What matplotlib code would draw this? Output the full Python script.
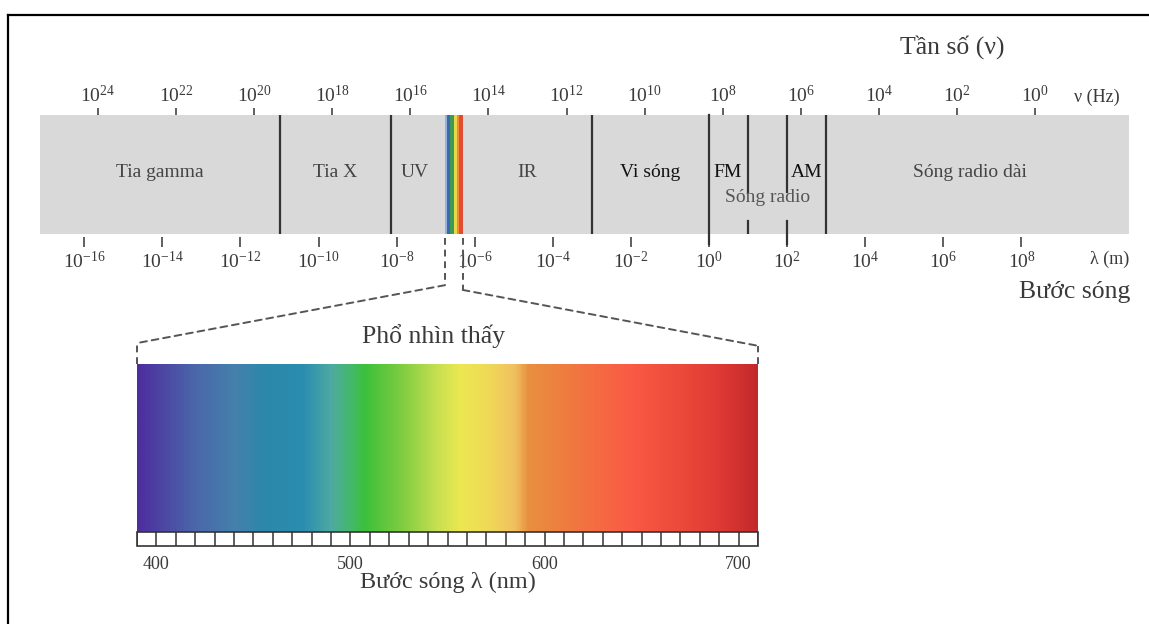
import numpy as np
import matplotlib
matplotlib.use('Agg')
import matplotlib.pyplot as plt
from matplotlib.colors import LinearSegmentedColormap, Normalize
from matplotlib.patches import Rectangle, ConnectionPatch
from matplotlib.lines import Line2D
from matplotlib.ticker import NullLocator

plt.rcParams['font.family'] = ['Liberation Serif', 'DejaVu Serif']
plt.rcParams['mathtext.fontset'] = 'custom'
plt.rcParams['mathtext.rm'] = 'Liberation Serif'
plt.rcParams['mathtext.it'] = 'Liberation Serif:italic'

# wavelength axis (log10 of metres) and frequency ticks
lam_exp = [-16, -14, -12, -10, -8, -6, -4, -2, 0, 2, 4, 6, 8]
nu_exp = [24, 22, 20, 18, 16, 14, 12, 10, 8, 6, 4, 2, 0]
nu_lam_const = 8.35   # log10(nu) = const - log10(lambda) as drawn

# band borders (log10 lambda) and which ones are broken by the "Sóng radio" text
borders = [-11.0, -8.14, -3.0, 0.0, 1.0, 2.0, 3.0]
border_kind = ['full', 'full', 'full', 'tick', 'split', 'splittick', 'full']

band_names = ['Tia gamma', 'Tia X', 'UV', 'IR', 'Vi sóng', 'FM', 'AM', 'Sóng radio dài']
band_pos = [-14.06, -9.58, -7.53, -4.67, -1.52, 0.48, 2.50, 6.68]
band_dark = [False, False, False, False, True, True, True, False]

# small rainbow strip for the visible band
vis_edges = [-6.763, -6.72, -6.635, -6.533, -6.463, -6.397, -6.31]
vis_colors = ['#93b3df', '#3a68b0', '#3f9a55', '#e6d84a', '#f08a36', '#e24c30']

# visible spectrum colour stops (nm)
spec_nm = [390, 420, 440, 455, 475, 490, 500, 507, 525, 545, 557, 572, 585, 592, 615, 645, 670, 690, 710]
spec_col = ['#4e2e9e', '#4a68aa', '#4580ac', '#2c88aa', '#2a8db0', '#4eaaa2', '#44b86a', '#3cc03c',
            '#7acb40', '#c8e050', '#ece850', '#f0d858', '#f0c060', '#e8903f', '#f07840', '#fa5a45',
            '#ec4a3a', '#e03a35', '#c22a2a']
spec_ticks = [400, 500, 600, 700]
ruler_step = 10

W, H = 1149, 624
fig = plt.figure(figsize=(W / 100, H / 100), dpi=100)
txt = '#3a3a3a'

# ---- main bar ----
ax = fig.add_axes([40 / W, 1 - 234 / H, 1089 / W, 119 / H])
lo, hi = 10 ** -17.134, 10 ** 10.753
ax.set_xscale('log')
ax.set_xlim(lo, hi)
ax.set_ylim(0, 1)
ax.set_facecolor('#d9d9d9')
for s in ax.spines.values():
    s.set_visible(False)
ax.spines['bottom'].set_position(('outward', 2.5))
ax.set_yticks([])
ax.set_xticks([10.0 ** e for e in lam_exp])
ax.set_xticklabels([r'$\mathregular{10^{%d}}$' % e for e in lam_exp])
ax.xaxis.set_minor_locator(NullLocator())
ax.tick_params(axis='x', direction='out', length=7, width=1.2, color='#444',
               pad=3, labelsize=14, labelcolor=txt)

axt = ax.twiny()
axt.set_xscale('log')
K = 10 ** nu_lam_const
axt.set_xlim(K / lo, K / hi)
for s in axt.spines.values():
    s.set_visible(False)
axt.set_xticks([10.0 ** e for e in nu_exp])
axt.set_xticklabels([r'$\mathregular{10^{%d}}$' % e for e in nu_exp])
axt.xaxis.set_minor_locator(NullLocator())
axt.tick_params(axis='x', direction='out', length=5, width=1.2, color='#444',
                pad=1.5, labelsize=14, labelcolor=txt)

for e, c0, c1 in zip(vis_colors, vis_edges[:-1], vis_edges[1:]):
    ax.axvspan(10 ** c0, 10 ** c1, color=e, lw=0)

bt = ax.get_xaxis_transform()
for b, kind in zip(borders, border_kind):
    x = 10 ** b
    if kind == 'full':
        ax.plot([x, x], [0, 1], color='#333', lw=1.6, transform=bt)
    elif kind == 'tick':
        ax.plot([x, x], [-0.085, 1], color='#333', lw=1.6, transform=bt, clip_on=False)
    elif kind == 'split':
        ax.plot([x, x], [0.355, 1], color='#333', lw=1.6, transform=bt)
        ax.plot([x, x], [0, 0.11], color='#333', lw=1.6, transform=bt)
    else:
        ax.plot([x, x], [0.355, 1], color='#333', lw=1.6, transform=bt)
        ax.plot([x, x], [-0.085, 0.11], color='#333', lw=1.6, transform=bt, clip_on=False)

for name, p, dark in zip(band_names, band_pos, band_dark):
    ax.text(10 ** p, 0.52, name, ha='center', va='center', fontsize=14,
            color='#111' if dark else '#444')
ax.text(10 ** 1.51, 0.31, 'Sóng radio', ha='center', va='center', fontsize=14, color='#555')

# ---- visible spectrum ----
ax2 = fig.add_axes([137 / W, 1 - 546 / H, 621 / W, 182 / H])
ax2.set_xlim(spec_nm[0], spec_nm[-1])
ax2.set_ylim(0, 1)
ruler = 0.075
cmap = LinearSegmentedColormap.from_list(
    'spec', [((n - spec_nm[0]) / (spec_nm[-1] - spec_nm[0]), c) for n, c in zip(spec_nm, spec_col)])
ramp = np.linspace(spec_nm[0], spec_nm[-1], 640)[None, :]
ax2.imshow(ramp, extent=(spec_nm[0], spec_nm[-1], ruler, 1), aspect='auto', cmap=cmap,
           norm=Normalize(spec_nm[0], spec_nm[-1]), interpolation='bilinear')
ax2.add_patch(Rectangle((spec_nm[0], 0), spec_nm[-1] - spec_nm[0], ruler, facecolor='white',
                        edgecolor='#333', lw=1.2, clip_on=False))
ax2.vlines(np.arange(spec_nm[0], spec_nm[-1] + 1, ruler_step), 0, ruler, color='#333', lw=1.1)
for s in ax2.spines.values():
    s.set_visible(False)
ax2.set_yticks([])
ax2.set_xticks(spec_ticks)
ax2.tick_params(axis='x', length=0, pad=7, labelsize=13, labelcolor=txt)
ax2.set_xlabel('Bước sóng λ (nm)', fontsize=17.5, color=txt, labelpad=-1)
ax2.text(0.478, 1.154, 'Phổ nhìn thấy', transform=ax2.transAxes, ha='center', va='center',
         fontsize=18.5, color=txt)

# dashed connectors
dash = dict(color='#555', lw=1.4, linestyle=(0, (3.5, 2.5)))
b2 = ax2.get_xaxis_transform()
for lam, drop, nm, rise in [(vis_edges[0], -0.43, spec_nm[0], 1.115),
                            (vis_edges[-1], -0.47, spec_nm[-1], 1.10)]:
    ax.plot([10 ** lam, 10 ** lam], [-0.03, drop], transform=bt, clip_on=False, **dash)
    fig.add_artist(ConnectionPatch(xyA=(10 ** lam, drop), coordsA=bt,
                                   xyB=(nm, rise), coordsB=b2, **dash))
    ax2.plot([nm, nm], [1.0, rise], transform=b2, clip_on=False, **dash)

# titles around the bar
fig.text(952 / W, 1 - 47 / H, 'Tần số (ν)', ha='center', va='center', fontsize=18.5, color=txt)
fig.text(1097 / W, 1 - 97 / H, 'ν (Hz)', ha='center', va='center', fontsize=13, color=txt)
fig.text(1110 / W, 1 - 259 / H, 'λ (m)', ha='center', va='center', fontsize=13, color=txt)
fig.text(1075 / W, 1 - 292 / H, 'Bước sóng', ha='center', va='center', fontsize=18.5, color=txt)

# frame
fig.add_artist(Line2D([8 / W, 1], [1 - 15 / H, 1 - 15 / H], color='black', lw=1.6))
fig.add_artist(Line2D([8 / W, 8 / W], [0, 1 - 15 / H], color='black', lw=1.6))

fig.savefig('out.png', dpi=100)
